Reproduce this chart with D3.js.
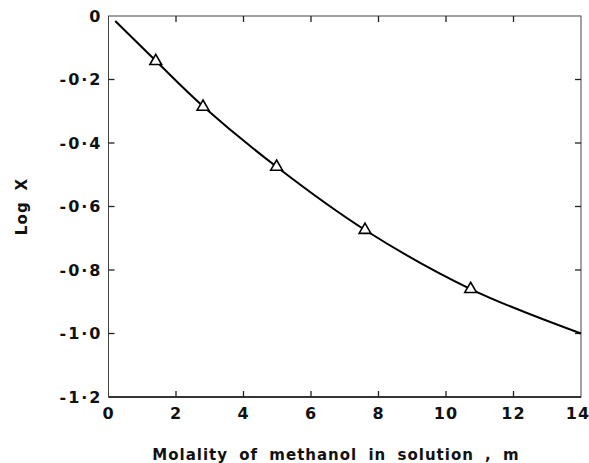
<!DOCTYPE html>
<html>
<head>
<meta charset="utf-8">
<script src="https://cdn.jsdelivr.net/npm/d3@7"></script>
<style>
  body { margin: 0; background: #fff; }
  text { font-family: "DejaVu Sans", sans-serif; fill: #111; }
</style>
</head>
<body>
<div id="chart"></div>
<script>
// Measured points (triangles)
const pointX = [1.4, 2.8, 4.98, 7.6, 10.73];
const pointY = [-0.142, -0.286, -0.475, -0.674, -0.86];

// Smooth fitted curve
const curveX = [0.2, 1.4, 2.8, 4.98, 7.6, 10.73, 14];
const curveY = [-0.016, -0.141, -0.284, -0.475, -0.674, -0.86, -1.0];

const xTicks = [0, 2, 4, 6, 8, 10, 12, 14];
const yTicks = [0, -0.2, -0.4, -0.6, -0.8, -1.0, -1.2];
const yTickLabels = ["0", "-0·2", "-0·4", "-0·6", "-0·8", "-1·0", "-1·2"];

const width = 589, height = 463;
const margin = { left: 108.5, right: 8, top: 16, bottom: 66 };

const svg = d3.select("#chart")
  .append("svg")
  .attr("width", width)
  .attr("height", height);

const x = d3.scaleLinear().domain([0, 14]).range([margin.left, width - margin.right]);
const y = d3.scaleLinear().domain([0, -1.2]).range([margin.top, height - margin.bottom]);

// Frame
svg.append("rect")
  .attr("x", x(0)).attr("y", y(0))
  .attr("width", x(14) - x(0)).attr("height", y(-1.2) - y(0))
  .attr("fill", "none").attr("stroke", "#444").attr("stroke-width", 1);
svg.append("line")
  .attr("x1", x(0)).attr("x2", x(14))
  .attr("y1", y(-1.2)).attr("y2", y(-1.2))
  .attr("stroke", "#111").attr("stroke-width", 1.6);

// Inward ticks on all four sides
const tickLen = 6;
const innerX = xTicks.slice(1, -1);
const innerY = yTicks.slice(1, -1);
const ticks = svg.append("g").attr("stroke", "#222").attr("stroke-width", 1.3);
innerX.forEach(v => {
  ticks.append("line").attr("x1", x(v)).attr("x2", x(v)).attr("y1", y(-1.2)).attr("y2", y(-1.2) - tickLen);
  ticks.append("line").attr("x1", x(v)).attr("x2", x(v)).attr("y1", y(0)).attr("y2", y(0) + tickLen);
});
innerY.forEach(v => {
  ticks.append("line").attr("x1", x(0)).attr("x2", x(0) + tickLen).attr("y1", y(v)).attr("y2", y(v));
  ticks.append("line").attr("x1", x(14)).attr("x2", x(14) - tickLen).attr("y1", y(v)).attr("y2", y(v));
});

// Tick labels
svg.append("g")
  .selectAll("text")
  .data(xTicks)
  .enter()
  .append("text")
  .attr("x", d => d === 14 ? x(d) - 3 : x(d))
  .attr("y", y(-1.2) + 16)
  .attr("text-anchor", "middle")
  .attr("dominant-baseline", "central")
  .attr("font-size", 16)
  .attr("font-weight", "bold")
  .attr("letter-spacing", 1)
  .text(d => d);

svg.append("g")
  .selectAll("text")
  .data(yTicks)
  .enter()
  .append("text")
  .attr("x", x(0) - 6)
  .attr("y", d => y(d))
  .attr("text-anchor", "end")
  .attr("dominant-baseline", "central")
  .attr("font-size", 16)
  .attr("font-weight", "bold")
  .attr("letter-spacing", 2)
  .text((d, i) => yTickLabels[i]);

// Axis titles
svg.append("text")
  .attr("x", 336)
  .attr("y", 455)
  .attr("text-anchor", "middle")
  .attr("dominant-baseline", "central")
  .attr("font-size", 15)
  .attr("font-weight", "bold")
  .attr("letter-spacing", 1)
  .attr("word-spacing", 5)
  .text("Molality of methanol in solution , m");

svg.append("text")
  .attr("transform", `translate(22,${(y(0) + y(-1.2)) / 2}) rotate(-90)`)
  .attr("text-anchor", "middle")
  .attr("dominant-baseline", "central")
  .attr("font-size", 15)
  .attr("font-weight", "bold")
  .attr("letter-spacing", 1.2)
  .attr("word-spacing", 4)
  .text("Log X");

// Curve
const line = d3.line()
  .x(d => x(d[0]))
  .y(d => y(d[1]))
  .curve(d3.curveCatmullRom.alpha(0.5));

svg.append("path")
  .datum(curveX.map((v, i) => [v, curveY[i]]))
  .attr("d", line)
  .attr("fill", "none")
  .attr("stroke", "#000")
  .attr("stroke-width", 2);

// Triangles
const tri = d3.symbol().type(d3.symbolTriangle).size(60);
svg.append("g")
  .selectAll("path")
  .data(pointX.map((v, i) => [v, pointY[i]]))
  .enter()
  .append("path")
  .attr("d", tri)
  .attr("transform", d => `translate(${x(d[0])},${y(d[1])})`)
  .attr("fill", "#fff")
  .attr("stroke", "#000")
  .attr("stroke-width", 1.6);
</script>
</body>
</html>
